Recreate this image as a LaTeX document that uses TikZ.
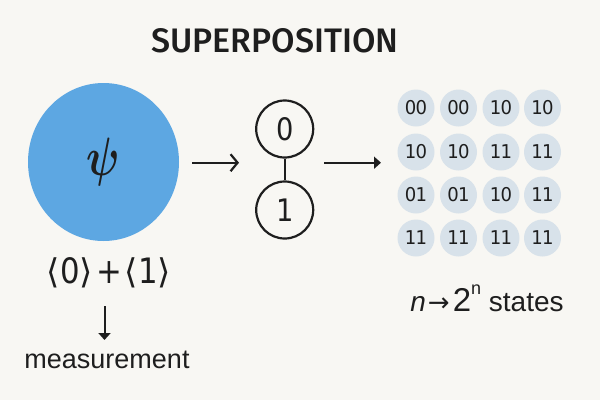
\documentclass[tikz,border=0pt]{standalone}
\usepackage{fontspec}
\setmainfont{Liberation Sans}
\newfontfamily\dig{DejaVu Sans}
\newfontfamily\dign[FakeStretch=0.88]{DejaVu Sans}
\newfontfamily\ttlfont{Fira Sans Medium}
\newfontfamily\digd[FakeStretch=0.95,LetterSpace=-3]{DejaVu Sans}
\usetikzlibrary{arrows.meta,shapes.geometric}
\definecolor{bg}{HTML}{F8F7F3}
\definecolor{ink}{HTML}{1E1E1E}
\definecolor{psiblue}{HTML}{5DA7E2}
\definecolor{statefill}{HTML}{D8E2EA}
\tikzset{
  qubit/.style={circle,draw=ink,line width=2.2pt,minimum size=57pt,inner sep=0pt,font=\dign\fontsize{31}{31}\selectfont,text=ink},
  statenode/.style={circle,fill=statefill,minimum size=37pt,inner sep=0pt,font=\digd\fontsize{19}{19}\selectfont,text=ink},
  lbl/.style={inner sep=0pt,text=ink},
  conn/.style={draw=ink,line width=2.2pt},
  barbtip/.style={-{Straight Barb[length=7pt,width=17pt,line width=2.2pt]}},
  solidtip/.style={-{Triangle[length=7pt,width=12pt]}},
}
\newcommand{\brk}[1]{{\dig\fontsize{34}{34}\selectfont #1}}
\begin{document}
\begin{tikzpicture}[x=1pt,y=-1pt]
\useasboundingbox (0,0) rectangle (600,400);
\fill[bg] (0,0) rectangle (600,400);
\node[lbl,font=\ttlfont\fontsize{34}{34}\selectfont] (title) at (275,41) {SUPERPOSITION};
\node[ellipse,fill=psiblue,minimum width=151pt,minimum height=158pt,inner sep=0pt,text=ink] (psi) at (103.5,162) {\scalebox{4.2}[5.4]{\boldmath$\psi$}};
\node[qubit] (q0) at (284.7,129) {0};
\node[qubit] (q1) at (284.7,210) {1};
\draw[conn] (q0) -- (q1);
\coordinate (a1s) at (192,162.7); \coordinate (a1e) at (239,162.7);
\draw[conn,barbtip] (a1s) -- (a1e);
\coordinate (a2s) at (324,162.7); \coordinate (a2e) at (381,162.7);
\draw[conn,solidtip] (a2s) -- (a2e);
\foreach \y/\r/\a/\b/\c/\d in {108/a/00/00/10/10,152/b/10/10/11/11,195/c/01/01/10/11,238/d/11/11/11/11}{
  \node[statenode] (s\r1) at (416,\y) {\a};
  \node[statenode] (s\r2) at (458.5,\y) {\b};
  \node[statenode] (s\r3) at (501,\y) {\c};
  \node[statenode] (s\r4) at (542.5,\y) {\d};
}
\node[lbl,font=\dign\fontsize{35}{35}\selectfont] (sum) at (109,273) {\brk{⟨}0\brk{⟩}\hspace{3pt}+\hspace{3pt}\brk{⟨}1\brk{⟩}};
\node[lbl,font=\fontsize{27}{27}\selectfont] (meas) at (107,360) {measurement};
\coordinate (a3s) at (104.5,306); \coordinate (a3e) at (104.5,340);
\draw[conn,line width=2pt,solidtip] (a3s) -- (a3e);
\node[lbl,font=\fontsize{28}{28}\selectfont] (st) at (487,298) {\textit{n}\hspace{2pt}{\dig\fontsize{26}{26}\selectfont →}\hspace{3pt}{\fontsize{33}{33}\selectfont 2}\raisebox{1.15ex}{\fontsize{18}{18}\selectfont n} states};
\end{tikzpicture}
\end{document}
